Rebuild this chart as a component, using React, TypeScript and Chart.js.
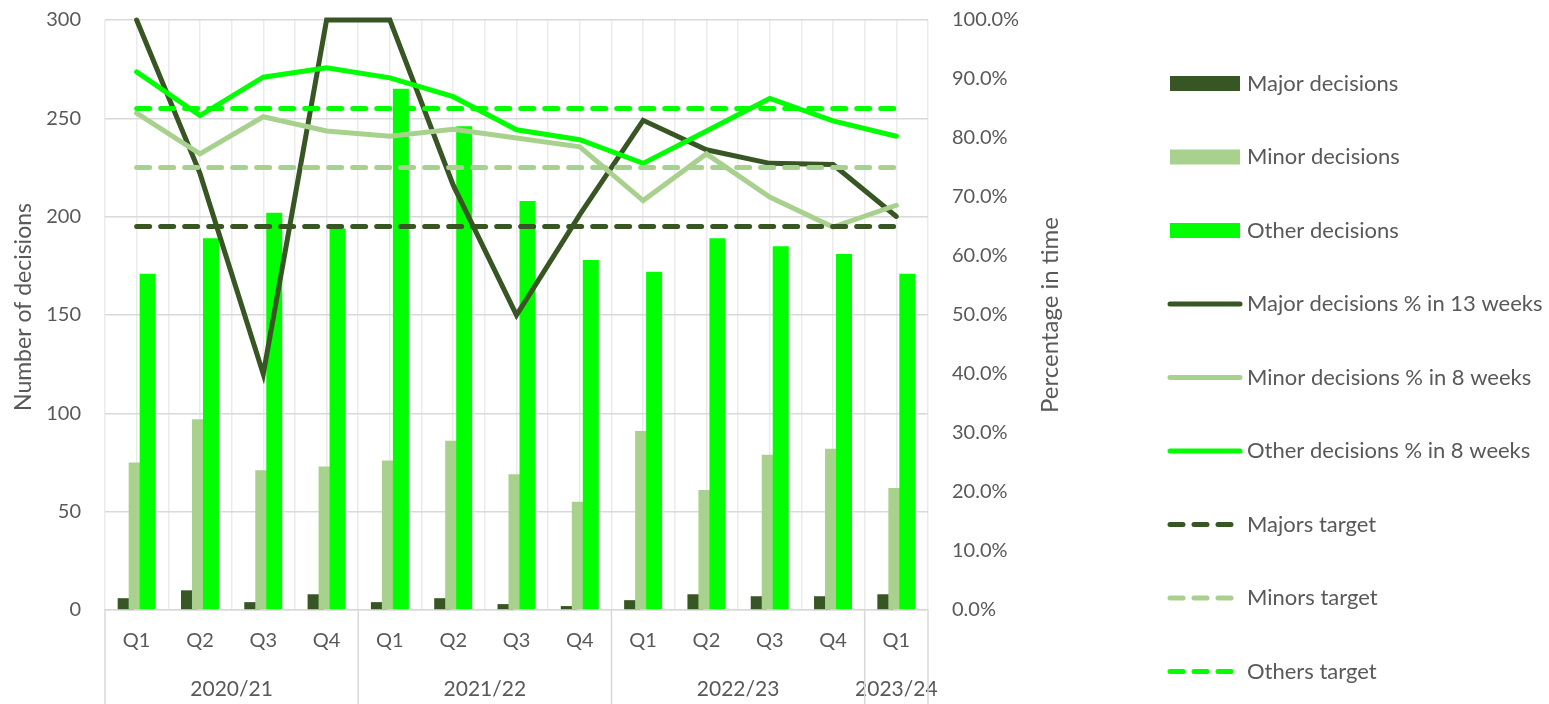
import React, { useEffect, useRef } from 'react';
import { Chart, registerables } from 'chart.js';

Chart.register(...registerables);

// ---------- data ----------
const quarterLabels = ['Q1', 'Q2', 'Q3', 'Q4', 'Q1', 'Q2', 'Q3', 'Q4', 'Q1', 'Q2', 'Q3', 'Q4', 'Q1'];
const yearLabels = ['2020/21', '2021/22', '2022/23', '2023/24'];
const quartersPerYear = [4, 4, 4, 1];

const majorDecisions = [6, 10, 4, 8, 4, 6, 3, 2, 5, 8, 7, 7, 8];
const minorDecisions = [75, 97, 71, 73, 76, 86, 69, 55, 91, 61, 79, 82, 62];
const otherDecisions = [171, 189, 202, 194, 265, 246, 208, 178, 172, 189, 185, 181, 171];

const majorPctIn13Weeks = [100, 74, 40, 100, 100, 72, 50, 67, 83, 78, 75.7, 75.5, 66.7];
const minorPctIn8Weeks = [84.2, 77.3, 83.6, 81.2, 80.3, 81.5, 80, 78.5, 69.4, 77.3, 70, 64.9, 68.6];
const otherPctIn8Weeks = [91.2, 83.8, 90.3, 91.9, 90.2, 87, 81.4, 79.7, 75.7, 81.2, 86.7, 82.9, 80.3];

const majorsTarget = 65;
const minorsTarget = 75;
const othersTarget = 85;

const leftTitle = 'Number of decisions';
const rightTitle = 'Percentage in time';
const leftTicks = { min: 0, max: 300, step: 50 };
const rightTicks = { min: 0, max: 100, step: 10 };

// ---------- style ----------
const W = 1549;
const H = 704;
const AREA = { left: 105, top: 20, right: 928, bottom: 610 };
const DARK = '#375623';
const LIGHT = '#A9D18E';
const BRIGHT = '#00FF00';
const TEXT = '#595959';
const GRID_H = '#D9D9D9';
const GRID_V = '#EBEBEB';
const FAMILY = 'Lato, "Open Sans", sans-serif';
const NUM_SIZE = 20;
const LEGEND_SIZE = 22;
const TITLE_SIZE = 23;
const RIGHT_TITLE_SIZE = 24;
const LINE_W = 5;
const DASH = [13, 11];

const constant = (v: number) => quarterLabels.map(() => v);

// draw datasets in index order (later series on top, lines above bars)
const drawOrderPlugin = {
  id: 'drawOrder',
  beforeDatasetsDraw(chart: any) {
    const ctx = chart.ctx;
    const a = chart.chartArea;
    const metas = chart.getSortedVisibleDatasetMetas().slice().sort((p: any, q: any) => p.index - q.index);
    for (const meta of metas) {
      ctx.save();
      ctx.beginPath();
      ctx.rect(a.left - 4, a.top - 4, a.right - a.left + 8, a.bottom - a.top + 8);
      ctx.clip();
      meta.controller.draw();
      ctx.restore();
    }
    return false;
  },
};

const extrasPlugin = {
  id: 'extras',
  afterDraw(chart: any) {
    const ctx = chart.ctx;
    const x = chart.scales.x;
    const bottom = chart.chartArea.bottom;
    const half = (x.getPixelForValue(1) - x.getPixelForValue(0)) / 2;
    ctx.save();
    ctx.font = `${NUM_SIZE + 1}px ${FAMILY}`;
    ctx.fillStyle = TEXT;
    ctx.textAlign = 'center';
    ctx.textBaseline = 'middle';
    const edges: number[] = [x.getPixelForValue(0) - half];
    let start = 0;
    quartersPerYear.forEach((n, i) => {
      const l = x.getPixelForValue(start) - half;
      const r = x.getPixelForValue(start + n - 1) + half;
      edges.push(r);
      ctx.fillText(yearLabels[i], (l + r) / 2, bottom + 79);
      start += n;
    });
    ctx.strokeStyle = GRID_H;
    ctx.lineWidth = 1.5;
    edges.forEach((e) => {
      ctx.beginPath();
      ctx.moveTo(e, bottom);
      ctx.lineTo(e, H);
      ctx.stroke();
    });

    // axis titles (both read bottom to top)
    ctx.font = `${TITLE_SIZE}px ${FAMILY}`;
    ctx.save();
    ctx.translate(24, 307);
    ctx.rotate(-Math.PI / 2);
    ctx.fillText(leftTitle, 0, 0);
    ctx.restore();
    ctx.font = `${RIGHT_TITLE_SIZE}px ${FAMILY}`;
    ctx.save();
    ctx.translate(1050, 315);
    ctx.rotate(-Math.PI / 2);
    ctx.fillText(rightTitle, 0, 0);
    ctx.restore();

    // legend
    ctx.font = `${LEGEND_SIZE}px ${FAMILY}`;
    const sx0 = 1170;
    const sx1 = 1240;
    const tx = 1247;
    chart.data.datasets.forEach((ds: any, i: number) => {
      const cy = 83.5 + i * 73.5;
      if (ds.type === 'bar') {
        ctx.fillStyle = ds.backgroundColor;
        ctx.fillRect(sx0, cy - 7.5, sx1 - sx0, 15);
      } else {
        ctx.strokeStyle = ds.borderColor;
        ctx.lineWidth = LINE_W;
        ctx.lineCap = 'round';
        ctx.beginPath();
        if (ds.borderDash) {
          ctx.setLineDash(DASH);
          ctx.moveTo(sx0, cy);
          ctx.lineTo(1231, cy);
        } else {
          ctx.setLineDash([]);
          ctx.moveTo(sx0, cy);
          ctx.lineTo(sx1, cy);
        }
        ctx.stroke();
        ctx.setLineDash([]);
      }
      ctx.fillStyle = TEXT;
      ctx.textAlign = 'left';
      ctx.fillText(ds.label, tx, cy);
    });
    ctx.restore();
  },
};

// keep the tick-label padding from pushing the plot area down
const trimVerticalPadding = (s: any) => {
  s.paddingTop = 12;
  s.paddingBottom = 12;
};

export default function App() {
  const ref = useRef<HTMLCanvasElement>(null);

  useEffect(() => {
    if (!ref.current) return;
    const font = { family: FAMILY, size: NUM_SIZE };
    const lineDs = (label: string, data: number[], color: string, dashed = false) => ({
      type: 'line' as const,
      label,
      data,
      borderColor: color,
      backgroundColor: color,
      borderWidth: LINE_W,
      borderCapStyle: 'round',
      borderJoinStyle: 'miter',
      borderDash: dashed ? DASH : undefined,
      pointRadius: 0,
      tension: 0,
      fill: false,
      yAxisID: 'y1',
      xAxisID: 'x',
    });
    const barDs = (label: string, data: number[], color: string) => ({
      type: 'bar' as const,
      label,
      data,
      backgroundColor: color,
      borderWidth: 0,
      categoryPercentage: 0.521,
      barPercentage: 1.4545,
      yAxisID: 'y',
      xAxisID: 'x',
    });

    const chart = new Chart(ref.current, {
      type: 'bar',
      data: {
        labels: quarterLabels,
        datasets: [
          barDs('Major decisions', majorDecisions, DARK),
          barDs('Minor decisions', minorDecisions, LIGHT),
          barDs('Other decisions', otherDecisions, BRIGHT),
          lineDs('Major decisions % in 13 weeks', majorPctIn13Weeks, DARK),
          lineDs('Minor decisions % in 8 weeks', minorPctIn8Weeks, LIGHT),
          lineDs('Other decisions % in 8 weeks', otherPctIn8Weeks, BRIGHT),
          lineDs('Majors target', constant(majorsTarget), DARK, true),
          lineDs('Minors target', constant(minorsTarget), LIGHT, true),
          lineDs('Others target', constant(othersTarget), BRIGHT, true),
        ] as any,
      },
      options: {
        responsive: false,
        animation: false,
        layout: { padding: { top: AREA.top, left: 0, right: 0, bottom: 0 } },
        plugins: {
          legend: { display: false },
          tooltip: { enabled: false },
        },
        scales: {
          x: {
            type: 'category',
            position: 'bottom',
            offset: true,
            grid: { offset: true, color: GRID_V, lineWidth: 1.5, drawTicks: false },
            border: { color: GRID_H, width: 1.5 },
            ticks: { color: TEXT, font, padding: 19, maxRotation: 0, autoSkip: false },
            afterFit: (s: any) => { s.height = H - AREA.bottom; },
          },
          xc: {
            type: 'category',
            position: 'top',
            labels: quarterLabels,
            offset: true,
            grid: { offset: false, color: GRID_V, lineWidth: 1.5, drawTicks: false },
            border: { display: false },
            ticks: { display: false },
            afterFit: (s: any) => { s.height = 0; },
          },
          y: {
            position: 'left',
            min: leftTicks.min,
            max: leftTicks.max,
            ticks: { stepSize: leftTicks.step, color: TEXT, font, padding: 24 },
            grid: { color: GRID_H, lineWidth: 1.5, drawTicks: false },
            border: { display: false },
            afterFit: (s: any) => { s.width = AREA.left; trimVerticalPadding(s); },
          },
          y1: {
            position: 'right',
            min: rightTicks.min,
            max: rightTicks.max,
            ticks: {
              stepSize: rightTicks.step,
              color: TEXT,
              font,
              padding: 16,
              callback: (v: any) => Number(v).toFixed(1) + '%',
            },
            grid: { display: false },
            border: { display: false },
            afterFit: (s: any) => { s.width = W - AREA.right; trimVerticalPadding(s); },
          },
        },
      } as any,
      plugins: [drawOrderPlugin, extrasPlugin],
    });
    return () => chart.destroy();
  }, []);

  return (
    <div style={{ position: 'fixed', left: 0, top: 0, width: W, height: H, background: '#fff' }}>
      <canvas ref={ref} width={W} height={H} style={{ display: 'block' }} />
    </div>
  );
}
